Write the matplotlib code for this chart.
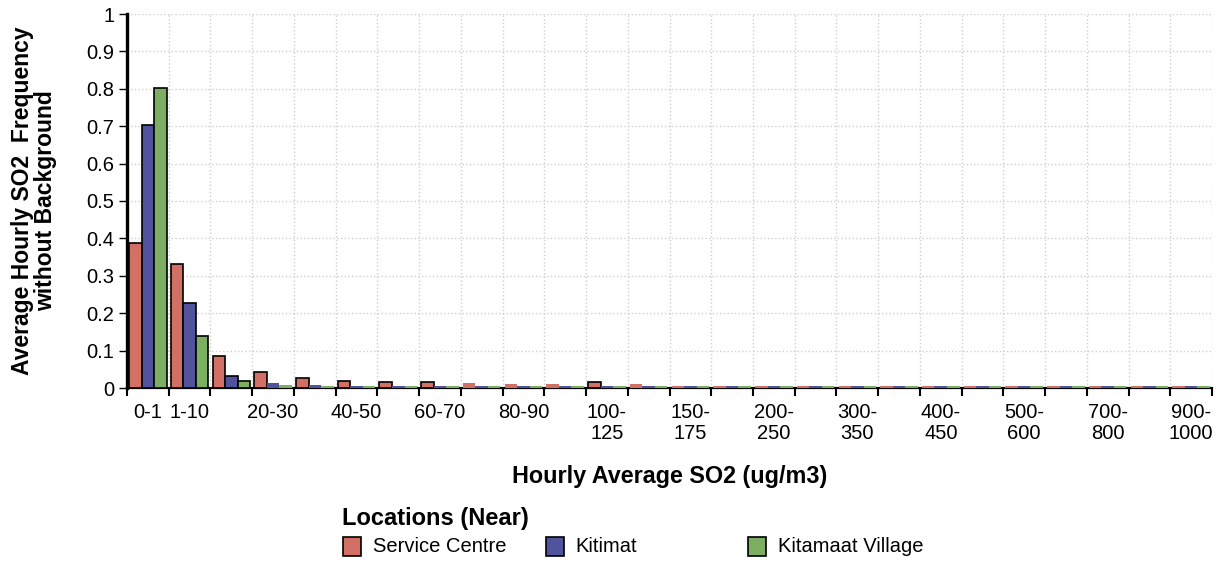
import matplotlib.pyplot as plt
import numpy as np
from matplotlib.patches import Rectangle

plt.rcParams['font.family'] = ['Liberation Sans', 'DejaVu Sans']

bins = ["0-1", "1-10", "10-20", "20-30", "30-40", "40-50", "50-60", "60-70",
        "70-80", "80-90", "90-100", "100-125", "125-150", "150-175", "175-200",
        "200-250", "250-300", "300-350", "350-400", "400-450", "450-500",
        "500-600", "600-700", "700-800", "800-900", "900-1000"]
tick_labels = ["0-1", "1-10", "", "20-30", "", "40-50", "", "60-70", "", "80-90",
               "", "100-\n125", "", "150-\n175", "", "200-\n250", "", "300-\n350",
               "", "400-\n450", "", "500-\n600", "", "700-\n800", "", "900-\n1000"]

service_centre = [0.388, 0.332, 0.086, 0.044, 0.028, 0.019, 0.015, 0.015, 0.013,
                  0.012, 0.010, 0.016, 0.011, 0.006, 0.005, 0.005, 0.005, 0.005,
                  0.005, 0.005, 0.005, 0.005, 0.005, 0.005, 0.005, 0.005]
kitimat = [0.702, 0.226, 0.032, 0.013, 0.007, 0.005, 0.005, 0.005, 0.005, 0.005,
           0.005, 0.005, 0.005, 0.005, 0.005, 0.005, 0.005, 0.005, 0.005, 0.005,
           0.005, 0.005, 0.005, 0.005, 0.005, 0.005]
kitamaat_village = [0.801, 0.140, 0.020, 0.009, 0.006, 0.005, 0.005, 0.005, 0.005,
                    0.005, 0.005, 0.005, 0.005, 0.005, 0.005, 0.005, 0.005, 0.005,
                    0.005, 0.005, 0.005, 0.005, 0.005, 0.005, 0.005, 0.005]

series = [("Service Centre", service_centre, "#d37065"),
          ("Kitimat", kitimat, "#51549c"),
          ("Kitamaat Village", kitamaat_village, "#7caf62")]

# bars shorter than this are too thin to show an outline
outline_min = 0.014

fig = plt.figure(figsize=(12.22, 5.62), dpi=100)
ax = fig.add_axes([127 / 1222, 1 - 388 / 562, 1085 / 1222, 374 / 562])

x = np.arange(len(bins))
width = 0.3
for k, (name, vals, color) in enumerate(series):
    vals = np.array(vals)
    big = vals >= outline_min
    ax.bar(x[big] + (k - 1) * width, vals[big], width, color=color,
           edgecolor="black", linewidth=1.2, zorder=5)
    ax.bar(x[~big] + (k - 1) * width, vals[~big], width, color=color,
           linewidth=0, zorder=5)

ax.set_xlim(-0.5, len(bins) - 0.5)
ax.set_ylim(0, 1)
ax.set_yticks(np.arange(0, 1.01, 0.1))
ax.set_yticklabels(["0", "0.1", "0.2", "0.3", "0.4", "0.5", "0.6", "0.7",
                    "0.8", "0.9", "1"])
ax.set_xticks(np.arange(len(bins) + 1) - 0.5)
ax.set_xticklabels([])
ax.set_xticks(x, minor=True)
ax.set_xticklabels(tick_labels, minor=True, fontsize=14.5, va="top",
                   linespacing=1.1)
ax.tick_params(axis="x", which="minor", length=0, pad=11)
ax.tick_params(axis="x", which="major", length=6, width=1.5, color="black")
ax.tick_params(axis="y", length=6, width=1, labelsize=14.5, pad=3)

ax.grid(True, which="major", color="#cfcfcf", linestyle=":", linewidth=1, zorder=0)
ax.set_axisbelow(True)

for side in ("top", "right"):
    ax.spines[side].set_visible(False)
ax.spines["left"].set_linewidth(2.4)
ax.spines["bottom"].set_linewidth(1.6)

ax.set_xlabel("Hourly Average SO2 (ug/m3)", fontsize=16.8, fontweight="bold",
              labelpad=16)
ax.set_ylabel("Average Hourly SO2  Frequency\nwithout Background", fontsize=16.5,
              fontweight="bold", labelpad=21, linespacing=1.0)

# legend
fig.text(342 / 1222, 1 - 518 / 562, "Locations (Near)", fontsize=17,
         fontweight="bold", va="center", ha="left")
for k, (name, vals, color) in enumerate(series):
    px = 343 + k * 202.5
    fig.patches.append(Rectangle((px / 1222, 1 - 556 / 562), 18 / 1222, 19 / 562,
                                 transform=fig.transFigure, facecolor=color,
                                 edgecolor="black", linewidth=1.2))
    fig.text((px + 30) / 1222, 1 - 546 / 562, name, fontsize=14.5,
             va="center", ha="left")

fig.savefig("out.png", dpi=100)
